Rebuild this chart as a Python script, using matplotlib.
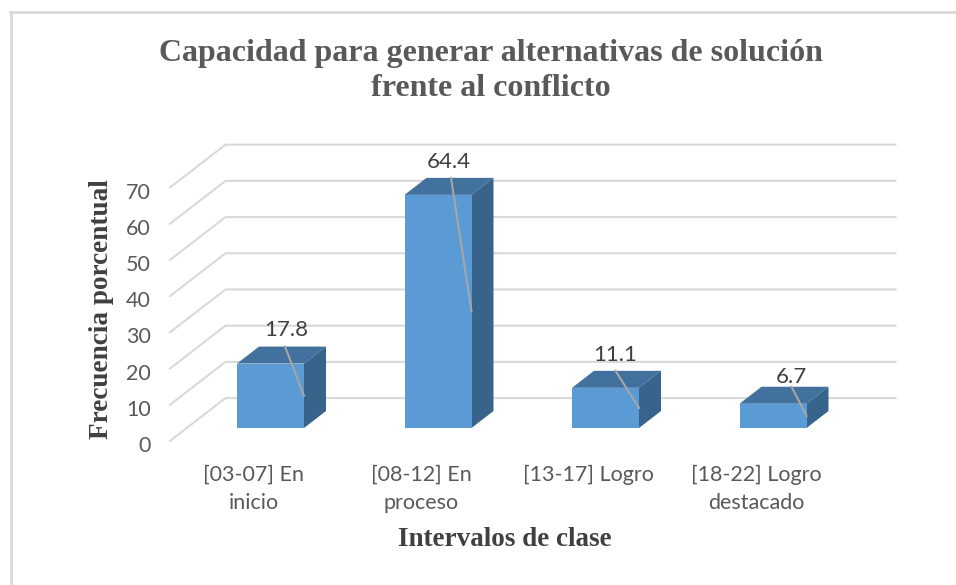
import matplotlib
matplotlib.use('Agg')
import matplotlib.pyplot as plt
from matplotlib.patches import Polygon

categories = ['[03-07] En\ninicio', '[08-12] En\nproceso', '[13-17] Logro', '[18-22] Logro\ndestacado']
values = [17.8, 64.4, 11.1, 6.7]
y_ticks = [0, 10, 20, 30, 40, 50, 60, 70]

title = 'Capacidad para generar alternativas de solución\nfrente al conflicto'
x_label = 'Intervalos de clase'
y_label = 'Frecuencia porcentual'

# pixel scale of the chart
PX_X = 167.5   # px per category
PX_Y = 3.62    # px per percentage point
X0 = 270.5     # px of the first category
Y0 = 428       # px of value 0 on the front of the bars
W, H = 956, 585

BAR_W = 0.4
# depth direction, one unit = depth of a bar
KX = 22 / PX_X
KY = 17 / PX_Y
FRONT = -0.76  # front edge of the floor
WALL = 1.76    # back wall

FRONT_C = '#5b9bd5'
TOP_C = '#41719c'
SIDE_C = '#38648c'
GRID_C = '#d9d9d9'
TEXT_C = '#595959'
LEADER_C = '#a6a6a6'

# label centre relative to the bar centre (px), leader start relative to the back edge (px)
label_dx = [15.5, 11, 10, 18.5]
label_dy = [17, 16, 16, 10]
leader_dx = [-7.5, -9, -12, -3.5]


def proj(x, y, d):
    return x + d * KX, y + d * KY


fig = plt.figure(figsize=(W / 100, H / 100), dpi=100)
ax = fig.add_axes([0, 0, 1, 1])
ax.set_xlim(-X0 / PX_X, (W - X0) / PX_X)
ax.set_ylim((Y0 - H) / PX_Y, Y0 / PX_Y)
ax.axis('off')

# outer frame, open on the right and at the bottom
fig.add_artist(plt.Line2D([10.5 / W, 10.5 / W], [0, 1 - 12 / H], color='#d9d9d9', lw=2))
fig.add_artist(plt.Line2D([10 / W, 1], [1 - 12 / H, 1 - 12 / H], color='#d9d9d9', lw=2))

# gridlines on the floor side and the back wall
for t in y_ticks:
    p0 = proj(-0.5, t, FRONT)
    p1 = proj(-0.5, t, WALL)
    p2 = proj(3.5, t, WALL)
    ax.plot([p0[0], p1[0], p2[0]], [p0[1], p1[1], p2[1]], color=GRID_C, lw=1.5, zorder=1,
            solid_joinstyle='miter')
    tx, ty = proj(-0.5, t, FRONT)
    ax.annotate(str(t), (tx, ty), xytext=(-19, -5), textcoords='offset pixels', ha='right', va='center',
                color=TEXT_C, fontsize=15.5, family='Lato')

for i, v in enumerate(values):
    l, r = i - BAR_W / 2, i + BAR_W / 2
    ax.add_patch(Polygon([(l, v), (r, v), proj(r, v, 1), proj(l, v, 1)], color=TOP_C, lw=0, zorder=3))
    ax.add_patch(Polygon([(r, 0), (r, v), proj(r, v, 1), proj(r, 0, 1)], color=SIDE_C, lw=0, zorder=3))
ax.bar(range(len(values)), values, width=BAR_W, color=FRONT_C, zorder=4)

# data labels with their leader lines
for i, v in enumerate(values):
    sx, sy = proj(i + leader_dx[i] / PX_X, v, 1)
    ax.plot([sx, i + BAR_W / 2], [sy, v / 2], color=LEADER_C, lw=1.5, zorder=5)
    ax.annotate(f'{v:.1f}', (i, v + KY), xytext=(label_dx[i], label_dy[i]), textcoords='offset pixels',
                ha='center', va='center', color='#404040', fontsize=16, family='Lato', zorder=6)

# category labels sit on the front edge of the floor
for i, c in enumerate(categories):
    tx, _ = proj(i, 0, FRONT)
    ax.annotate(c, (tx, 0), xytext=(0, -37), textcoords='offset pixels', ha='center', va='top',
                color=TEXT_C, fontsize=15.5, family='Lato', linespacing=1.5)

fig.text(491 / W, 1 - 71 / H, title, ha='center', va='center', color=TEXT_C, fontsize=23,
         family='Liberation Serif', weight='bold', linespacing=1.27)
fig.text(505 / W, 1 - 540 / H, x_label, ha='center', va='center', color='#404040', fontsize=19.5,
         family='Liberation Serif', weight='bold')
fig.text(101 / W, 1 - 309 / H, y_label, ha='center', va='center', rotation=90, color='#404040', fontsize=19.6,
         family='Liberation Serif', weight='bold')

fig.savefig('out.png', dpi=100)
